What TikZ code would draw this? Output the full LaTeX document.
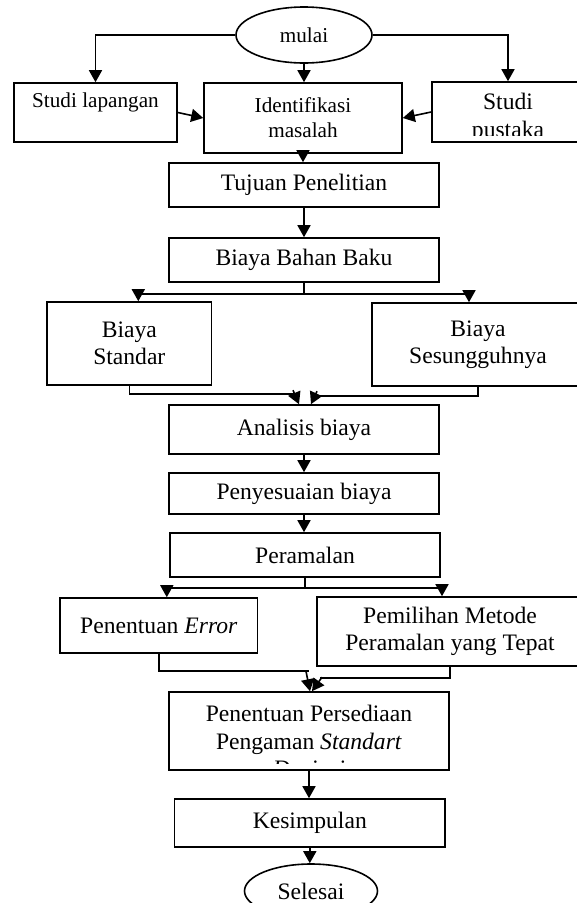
\documentclass[tikz,border=0pt]{standalone}
\usepackage{fontspec}
\setmainfont{Liberation Serif}
\usetikzlibrary{shapes.geometric,arrows.meta,calc}
\begin{document}
\begin{tikzpicture}[x=1pt,y=1pt,
  every node/.style={font=\fontsize{23.6}{27.5}\selectfont},
  smallfont/.style={font=\fontsize{21.2}{25}\selectfont},
  box/.style={draw,line width=1.6pt,rectangle,inner sep=0pt,align=center},
  oval/.style={draw,line width=1.6pt,ellipse,inner sep=0pt},
  arr/.style={line width=1.6pt,-{Triangle[length=12pt,width=13pt]}},
  ln/.style={line width=1.6pt}]
\clip (0,0) rectangle (577,-903);
\fill[white] (0,0) rectangle (577,-903);

% start
\node[oval,smallfont,minimum width=136,minimum height=56] (mulai) at (304,-35) {mulai};

% row 1
\node[box,smallfont,minimum width=163,minimum height=59] (sl) at (95.5,-112.5) {Studi lapangan\\\mbox{}};
\node[box,smallfont,minimum width=198,minimum height=70] (id) at (303,-118) {Identifikasi\\masalah};
\node[box,minimum width=152,minimum height=60,
  path picture={\clip ([yshift=7pt]path picture bounding box.south west) rectangle (path picture bounding box.north east);
    \node[align=center] at ([yshift=-6pt]path picture bounding box.center) {Studi\\pustaka};}] (sp) at (508,-112) {};

\node[box,minimum width=270,minimum height=44] (tu) at (304,-185) {Tujuan Penelitian};
\node[box,minimum width=270,minimum height=44] (bbb) at (304,-260) {Biaya Bahan Baku};

\node[box,minimum width=164.6,minimum height=83] (bs) at (129.3,-343.5) {Biaya\\Standar};
\node[box,minimum width=212,minimum height=83] (bsg) at (478,-344.5) {Biaya\\Sesungguhnya};

\node[box,minimum width=270,minimum height=49] (an) at (304,-429.5) {Analisis biaya};
\node[box,minimum width=270,minimum height=41] (pb) at (304,-493.5) {Penyesuaian biaya};
\node[box,minimum width=270,minimum height=44] (pr) at (305,-555) {Peramalan};

\node[box,minimum width=197.6,minimum height=55] (pe) at (158.8,-625.5) {Penentuan \textit{Error}};
\node[box,minimum width=266,minimum height=69] (pm) at (450,-631.5) {Pemilihan Metode\\Peramalan yang Tepat};

\node[box,minimum width=280,minimum height=78,
  path picture={\clip ([yshift=7pt]path picture bounding box.south west) rectangle (path picture bounding box.north east);
    \node[align=center] at ([yshift=-10pt]path picture bounding box.center) {Penentuan Persediaan\\Pengaman \textit{Standart}\\\textit{Deviasi}};}] (pp) at (309,-731) {};

\node[box,minimum width=270.4,minimum height=48] (ks) at (309.8,-823) {Kesimpulan};
\node[oval,minimum width=133,minimum height=54] (se) at (311,-891) {Selesai};

% connectors
\draw[arr] (mulai.west) -| (sl.north);
\draw[arr] (mulai.east) -| (sp.north);
\draw[arr] (mulai.south) -- (mulai.south |- id.north);
\draw[arr] (sl.east) -- (id.west);
\draw[arr] (sp.west) -- (id.east);
\draw[arr] (id.south) -- (id.south |- tu.north);
\draw[arr] (tu.south) -- (bbb.north);

\draw[ln] (bbb.south) -- ++(0,-11) coordinate (b1);
\draw[arr] (b1) -| ([xshift=9pt]bs.north);
\draw[arr] (b1) -| ([xshift=-9pt]bsg.north);

\draw[ln] (bs.south) |- ($(an.north)+(-8,10)$);
\draw[arr] ($(an.north)+(-11,14)$) -- ($(an.north)+(-5,0)$);
\draw[ln] (bsg.south) |- ($(an.north)+(10,8)$);
\draw[arr] ($(an.north)+(13,13)$) -- ($(an.north)+(7,0)$);

\draw[arr] (an.south) -- (an.south |- pb.north);
\draw[arr] (pb.south) -- (pb.south |- pr.north);

\draw[ln] (pr.south) -- ++(0,-10) coordinate (p1);
\draw[arr] (p1) -| ([xshift=8pt]pe.north);
\draw[arr] (p1) -| ([xshift=-8pt]pm.north);

\draw[ln] (pe.south) |- ($(pp.north)+(0,20)$);
\draw[arr] ($(pp.north)+(-3,20)$) -- ($(pp.north)+(1,0)$);
\draw[ln] (pm.south) |- ($(pp.north)+(11,13)$);
\draw[arr] ($(pp.north)+(13,14)$) -- ($(pp.north)+(3,0)$);

\draw[arr] (pp.south) -- (pp.south |- ks.north);
\draw[arr] (ks.south) -- (ks.south |- se.north);
\end{tikzpicture}
\end{document}
